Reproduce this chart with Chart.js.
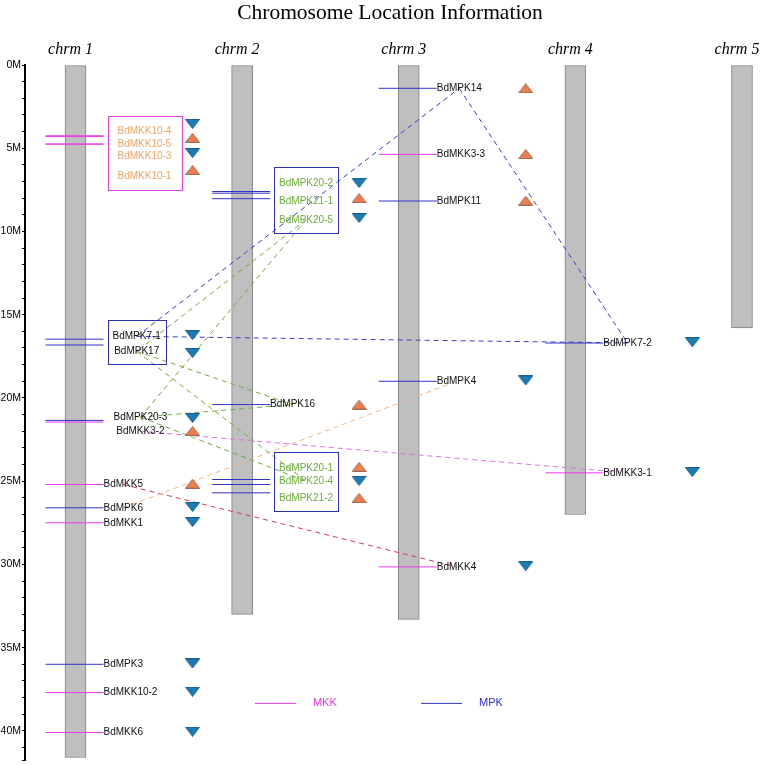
<!DOCTYPE html>
<html>
<head>
<meta charset="utf-8">
<script src="https://cdn.jsdelivr.net/npm/chart.js@4.4.0/dist/chart.umd.min.js"></script>
<style>html, body { margin: 0; padding: 0; background: #fff; }</style>
</head>
<body>
<canvas id="chromChart" width="760" height="765"></canvas>
<script>
// chromosome lengths in Mb
const chromosomes = ['chrm 1', 'chrm 2', 'chrm 3', 'chrm 4', 'chrm 5'];
const chromLengths = [41.6, 33.0, 33.3, 27.0, 15.8];

// genes: name, chromosome, position (Mb), family, arrow
const geneNames = ['BdMKK10-4', 'BdMKK10-5', 'BdMKK10-3', 'BdMKK10-1', 'BdMPK7-1', 'BdMPK17', 'BdMPK20-3', 'BdMKK3-2',
    'BdMKK5', 'BdMPK6', 'BdMKK1', 'BdMPK3', 'BdMKK10-2', 'BdMKK6',
    'BdMPK20-2', 'BdMPK21-1', 'BdMPK20-5', 'BdMPK16', 'BdMPK20-1', 'BdMPK20-4', 'BdMPK21-2',
    'BdMPK14', 'BdMKK3-3', 'BdMPK11', 'BdMPK4', 'BdMKK4',
    'BdMPK7-2', 'BdMKK3-1'];
const geneChrom = [1, 1, 1, 1, 1, 1, 1, 1, 1, 1, 1, 1, 1, 1, 2, 2, 2, 2, 2, 2, 2, 3, 3, 3, 3, 3, 4, 4];
const genePos = [4.25, 4.3, 4.75, 4.75, 16.47, 16.82, 21.35, 21.45, 25.2, 26.6, 27.5, 36.0, 37.7, 40.1,
    7.6, 7.7, 8.03, 20.4, 24.9, 25.2, 25.7,
    1.4, 5.37, 8.17, 19.0, 30.15,
    16.7, 24.5];
const geneFamily = ['MKK', 'MKK', 'MKK', 'MKK', 'MPK', 'MPK', 'MPK', 'MKK', 'MKK', 'MPK', 'MKK', 'MPK', 'MKK', 'MKK',
    'MPK', 'MPK', 'MPK', 'MPK', 'MPK', 'MPK', 'MPK',
    'MPK', 'MKK', 'MPK', 'MPK', 'MKK',
    'MPK', 'MKK'];
const geneArrow = ['down', 'up', 'down', 'up', 'down', 'down', 'down', 'up', 'up', 'down', 'down', 'down', 'down', 'down',
    'down', 'up', 'down', 'up', 'up', 'down', 'up',
    'up', 'up', 'up', 'down', 'down',
    'down', 'down'];
// where each label sits (Mb), spread apart where genes crowd
const labelAt = [4.0, 4.75, 5.5, 6.7, 16.3, 17.2, 21.15, 22.0, 25.2, 26.6, 27.5, 36.0, 37.7, 40.1,
    7.1, 8.2, 9.3, 20.4, 24.2, 25.0, 26.0,
    1.4, 5.37, 8.17, 19.0, 30.15,
    16.7, 24.5];
// where each arrow sits (Mb)
const arrowAt = [3.54, 4.38, 5.29, 6.31, 16.22, 17.3, 21.2, 21.98, 25.15, 26.55, 27.45, 35.95, 37.65, 40.05,
    7.09, 7.99, 9.19, 20.4, 24.14, 24.98, 26.0,
    1.4, 5.35, 8.15, 18.95, 30.1,
    16.65, 24.45];

// stacked label groups
const labelGroups = [
    ['BdMKK10-4', 'BdMKK10-5', 'BdMKK10-3', 'BdMKK10-1'],
    ['BdMPK7-1', 'BdMPK17'],
    ['BdMPK20-3', 'BdMKK3-2'],
    ['BdMPK20-2', 'BdMPK21-1', 'BdMPK20-5'],
    ['BdMPK20-1', 'BdMPK20-4', 'BdMPK21-2']
];
const groupBox = ['MKK', 'MPK', null, 'MPK', 'MPK'];
const groupText = ['orange', 'black', 'black', 'green', 'green'];
const groupPad = [10, 5, 6, 5, 5];

// duplicated pairs
const linkFrom = ['BdMPK7-1', 'BdMPK14', 'BdMPK7-1', 'BdMPK20-5', 'BdMPK20-5', 'BdMPK17', 'BdMPK17', 'BdMPK20-3', 'BdMPK20-3', 'BdMKK3-2', 'BdMPK6', 'BdMKK5'];
const linkTo = ['BdMPK14', 'BdMPK7-2', 'BdMPK7-2', 'BdMPK20-3', 'BdMPK17', 'BdMPK16', 'BdMPK20-4', 'BdMPK16', 'BdMPK20-4', 'BdMKK3-1', 'BdMPK4', 'BdMKK4'];
const linkKind = ['blue', 'blue', 'blue', 'green', 'green', 'green', 'green', 'green', 'green', 'pink', 'peach', 'red'];

const legendNames = ['MKK', 'MPK'];

const COLORS = {
    MKK: '#e83ce8', MPK: '#3232c8',
    orange: '#f2a468', green: '#6fae3c', black: '#111',
    blue: '#3a3ad6', pink: '#e46ee4', peach: '#f4b486', red: '#d23a5a'
};
const LABEL_FONT = '10px "Liberation Sans", Arial, sans-serif';
const PX = 166.625;      // px per chromosome slot
const LINE_L = -30 / PX, LINE_R = 28 / PX, MARK_X = 117 / PX;

const measurer = document.createElement('canvas').getContext('2d');
measurer.font = LABEL_FONT;
const textW = s => measurer.measureText(s).width;

function groupOf(name) {
    return labelGroups.findIndex(g => g.includes(name));
}
function groupWidth(g) {
    return Math.max(...labelGroups[g].map(textW)) + 2 * groupPad[g];
}
// label centre, in data units
function labelCenter(i) {
    const g = groupOf(geneNames[i]);
    const off = g >= 0 ? 28 + 4 + groupWidth(g) / 2 : 28 + textW(geneNames[i]) / 2;
    return { x: geneChrom[i] + off / PX, y: labelAt[i] };
}

function triangle(up, fill, stroke) {
    const c = document.createElement('canvas');
    c.width = 15; c.height = 10;
    const g = c.getContext('2d');
    g.beginPath();
    if (up) { g.moveTo(7.5, 0.5); g.lineTo(14.5, 9.5); g.lineTo(0.5, 9.5); }
    else { g.moveTo(0.5, 0.5); g.lineTo(14.5, 0.5); g.lineTo(7.5, 9.5); }
    g.closePath();
    g.fillStyle = fill; g.fill();
    g.strokeStyle = stroke; g.lineWidth = 1; g.stroke();
    return c;
}
const upMark = triangle(true, '#f07d4c', '#9a6a55');
const downMark = triangle(false, '#1b7bb2', '#17608c');

function geneSegments(fam) {
    const pts = [];
    geneNames.forEach((n, i) => {
        if (geneFamily[i] !== fam) return;
        pts.push({ x: geneChrom[i] + LINE_L, y: genePos[i] });
        pts.push({ x: geneChrom[i] + LINE_R, y: genePos[i] });
        pts.push({ x: geneChrom[i] + LINE_R, y: null });
    });
    return pts;
}

function marks(dir) {
    return geneNames.map((n, i) => geneArrow[i] === dir ? { x: geneChrom[i] + MARK_X, y: arrowAt[i] } : null)
        .filter(p => p);
}

const datasets = [];
datasets.push({
    type: 'scatter', label: 'up', data: marks('up'), pointStyle: upMark, order: 1
});
datasets.push({
    type: 'scatter', label: 'down', data: marks('down'), pointStyle: downMark, order: 1
});
linkFrom.forEach((a, k) => {
    const ia = geneNames.indexOf(a), ib = geneNames.indexOf(linkTo[k]);
    datasets.push({
        type: 'line', label: a + '-' + linkTo[k],
        data: [labelCenter(ia), labelCenter(ib)],
        borderColor: COLORS[linkKind[k]], borderWidth: 1, borderDash: [5, 4],
        pointRadius: 0, order: 3
    });
});
legendNames.forEach(fam => {
    datasets.push({
        type: 'line', label: fam, data: geneSegments(fam),
        borderColor: COLORS[fam], borderWidth: 1, pointRadius: 0, spanGaps: false, order: 5
    });
});
datasets.push({
    type: 'bar', label: 'chromosomes',
    data: chromosomes.map((c, i) => ({ x: i + 1, y: [0, chromLengths[i]] })),
    backgroundColor: '#bfbfbf', borderColor: '#808080', borderWidth: 1,
    borderSkipped: false, barThickness: 21, order: 10
});

const labelsPlugin = {
    id: 'chromLabels',
    afterDatasetsDraw(chart) {
        const { ctx, scales: { x, y } } = chart;
        ctx.save();
        // chromosome names
        ctx.font = 'italic 16px "Liberation Serif", "Times New Roman", serif';
        ctx.fillStyle = '#000';
        ctx.textAlign = 'center';
        ctx.textBaseline = 'middle';
        chromosomes.forEach((c, i) => ctx.fillText(c, x.getPixelForValue(i + 1) - 5, y.top - 15));

        // gene names
        ctx.font = LABEL_FONT;
        geneNames.forEach((n, i) => {
            const g = groupOf(n);
            ctx.fillStyle = COLORS[g >= 0 ? groupText[g] : 'black'];
            const c = labelCenter(i);
            if (g >= 0) {
                ctx.textAlign = 'center';
                ctx.fillText(n, x.getPixelForValue(c.x), y.getPixelForValue(c.y));
            } else {
                ctx.textAlign = 'left';
                ctx.fillText(n, x.getPixelForValue(geneChrom[i] + LINE_R), y.getPixelForValue(c.y));
            }
        });

        // boxes round crowded groups
        labelGroups.forEach((grp, g) => {
            if (!groupBox[g]) return;
            const idx = grp.map(n => geneNames.indexOf(n));
            const left = x.getPixelForValue(geneChrom[idx[0]] + LINE_R) + 4;
            const top = y.getPixelForValue(labelAt[idx[0]]) - 16;
            const bottom = y.getPixelForValue(labelAt[idx[idx.length - 1]]) + 13;
            ctx.strokeStyle = groupBox[g] === 'MKK' ? '#e040e0' : '#3030b4';
            ctx.lineWidth = 1;
            ctx.strokeRect(Math.round(left) + 0.5, Math.round(top) + 0.5, Math.round(groupWidth(g)), Math.round(bottom - top));
        });

        // legend
        ctx.font = '11px "Liberation Sans", Arial, sans-serif';
        legendNames.forEach((fam, k) => {
            const x0 = x.getPixelForValue(2.077 + k * 0.997);
            const yy = y.getPixelForValue(38.32);
            ctx.strokeStyle = COLORS[fam];
            ctx.beginPath();
            ctx.moveTo(x0, yy + 0.5);
            ctx.lineTo(x0 + 41, yy + 0.5);
            ctx.stroke();
            ctx.fillStyle = COLORS[fam];
            ctx.textAlign = 'left';
            ctx.fillText(fam, x0 + 58, yy);
        });
        ctx.restore();
    }
};

new Chart(document.getElementById('chromChart'), {
    type: 'scatter',
    data: { datasets: datasets },
    options: {
        responsive: false,
        animation: false,
        devicePixelRatio: 1,
        layout: { padding: { left: 0, right: 5, top: 0, bottom: 5 } },
        plugins: {
            legend: { display: false },
            tooltip: { enabled: false },
            title: {
                display: true,
                text: 'Chromosome Location Information',
                fullSize: false,
                color: '#000',
                font: { family: '"Liberation Serif", "Times New Roman", serif', size: 21.5, weight: 'normal' },
                padding: { top: 0, bottom: 39.2 }
            }
        },
        scales: {
            x: { type: 'linear', display: false, min: 0.6969, max: 5.0781, offset: false },
            y: {
                type: 'linear', reverse: true, min: 0, max: 41.75,
                afterFit: s => { s.width = 25; s.paddingBottom = 0; s.paddingTop = 0; },
                border: { color: '#000', width: 2 },
                grid: { drawOnChartArea: false, tickLength: 3, color: '#000' },
                ticks: {
                    stepSize: 1, autoSkip: false, padding: 1, color: '#000',
                    font: { family: '"Liberation Sans", Arial, sans-serif', size: 10.5 },
                    callback: v => v % 5 === 0 ? v + 'M' : ''
                }
            }
        }
    },
    plugins: [labelsPlugin]
});
</script>
</body>
</html>
